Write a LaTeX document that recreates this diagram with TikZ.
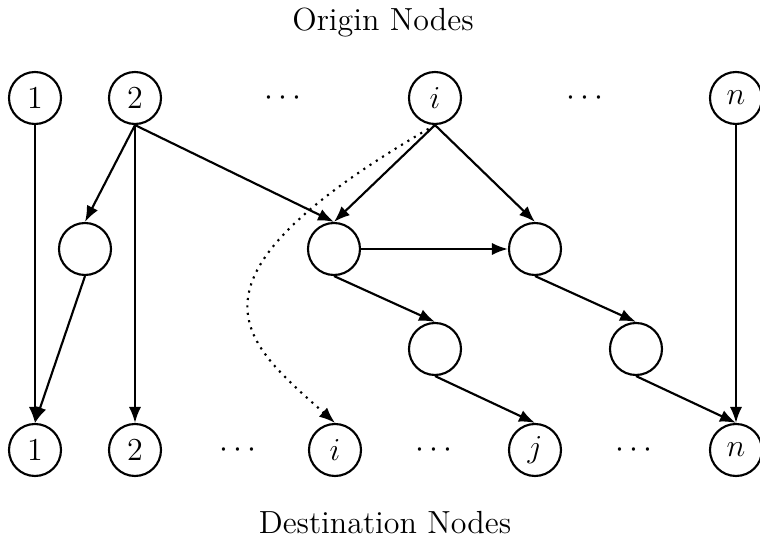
\documentclass[tikz,border=0pt]{standalone}
\usepackage{tikz}
\usetikzlibrary{arrows.meta}
\newcommand{\px}{0.375pt}
\tikzset{
    flownode/.style={draw,circle,thick,inner sep=0pt,minimum size=19.5pt,font=\fontsize{12}{14}\selectfont},
    gapdots/.style={inner sep=0pt,font=\fontsize{12}{14}\selectfont},
    flowedge/.style={thick,-{Latex[length=6pt,width=4.6pt]}},
    pathedge/.style={thick,dotted,-{Latex[length=6pt,width=4.6pt]}}
}

\begin{document}
\begin{tikzpicture}[x=\px,y=-\px]
    \useasboundingbox (0,0) rectangle (760,542);    % Freeze the bounding box
    % --- --- --- Origin row
    \node[anchor=base,font=\fontsize{12}{14}\selectfont] (TXT_ORIG) at (383,31) {Origin Nodes};
    \node[flownode] (O1) at (35,98) {$1$};
    \node[flownode] (O2) at (135,98) {$2$};
    \node[gapdots] (OD1) at (283,98) {$\cdots$};
    \node[flownode] (OI) at (435,98) {$i$};
    \node[gapdots] (OD2) at (585,98) {$\cdots$};
    \node[flownode] (ON) at (736,98) {$n$};
    % --- --- --- Inner nodes
    \node[flownode] (M1) at (85,249) {};
    \node[flownode] (M2) at (334,249) {};
    \node[flownode] (M3) at (535,249) {};
    \node[flownode] (L1) at (435,349) {};
    \node[flownode] (L2) at (636,349) {};
    % --- --- --- Destination row
    \node[flownode] (D1) at (35,450) {$1$};
    \node[flownode] (D2) at (135,450) {$2$};
    \node[gapdots] (DD1) at (238,450) {$\cdots$};
    \node[flownode] (DI) at (335,450) {$i$};
    \node[gapdots] (DD2) at (434,450) {$\cdots$};
    \node[flownode] (DJ) at (535,450) {$j$};
    \node[gapdots] (DD3) at (634,450) {$\cdots$};
    \node[flownode] (DN) at (736,450) {$n$};
    \node[anchor=base,font=\fontsize{12}{14}\selectfont] (TXT_DEST) at (385,534) {Destination Nodes};
    % === === === Arcs
    \draw[flowedge] (O1.south) -- (D1.north);
    \draw[flowedge] (O2.south) -- (M1.north);
    \draw[flowedge] (O2.south) -- (D2.north);
    \draw[flowedge] (O2.south) -- (M2.north);
    \draw[flowedge] (OI.south) -- (M2.north);
    \draw[flowedge] (OI.south) -- (M3.north);
    \draw[flowedge] (M1.south) -- (D1.north);
    \draw[flowedge] (M2.east) -- (M3.west);
    \draw[flowedge] (M2.south) -- (L1.north);
    \draw[flowedge] (M3.south) -- (L2.north);
    \draw[flowedge] (L1.south) -- (DJ.north);
    \draw[flowedge] (L2.south) -- (DN.north);
    \draw[flowedge] (ON.south) -- (DN.north);
    % === === === Path i -> i
    \draw[pathedge] (OI.south) to[out=210,in=138,out looseness=2.55,in looseness=1.0] (DI.north);
\end{tikzpicture}
\end{document}
